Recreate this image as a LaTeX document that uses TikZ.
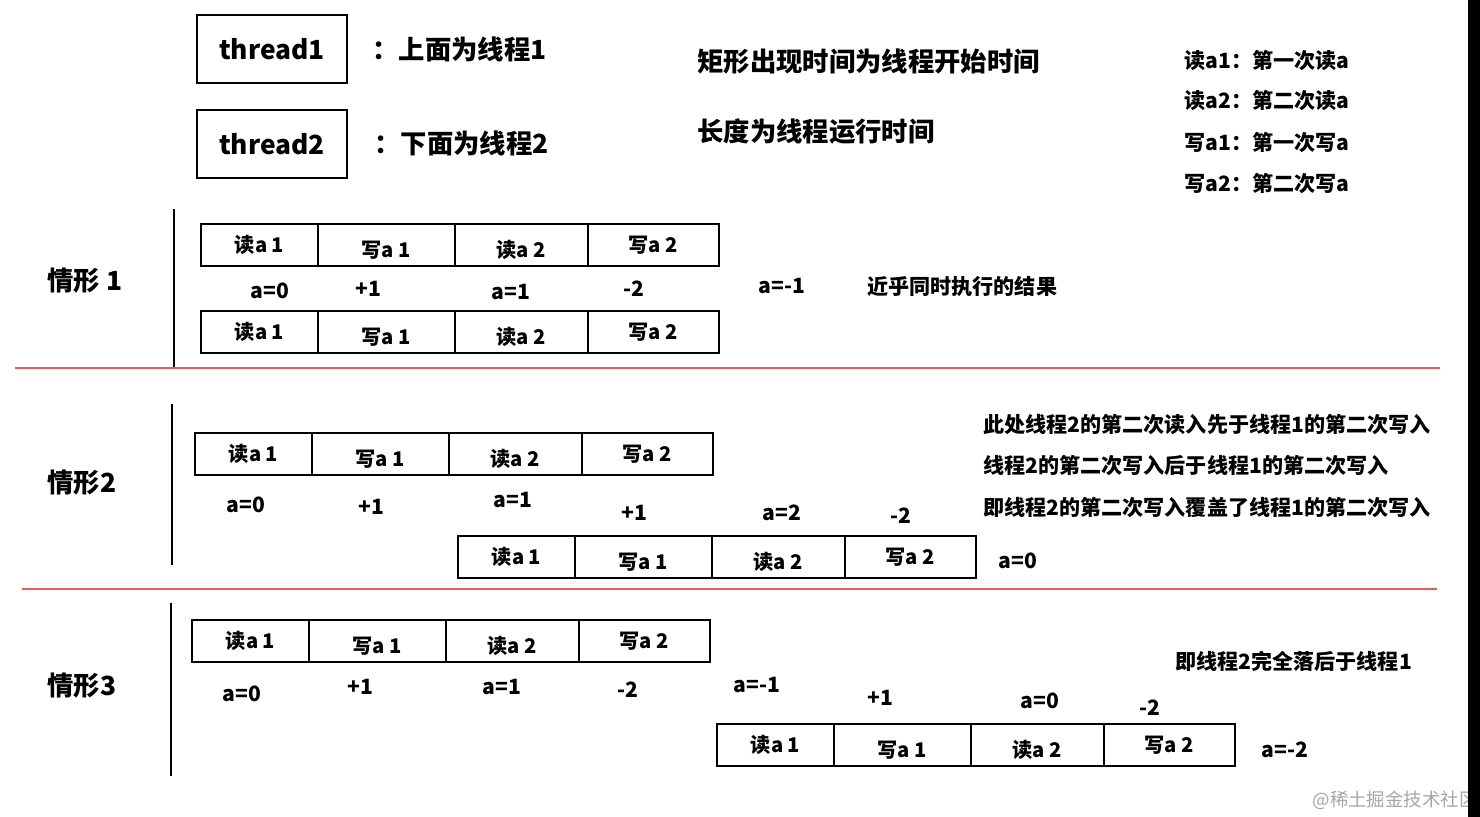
\documentclass[tikz,border=0pt]{standalone}
\usepackage{fontspec}
\setmainfont{Noto Sans CJK SC}
\usetikzlibrary{positioning}
\definecolor{sepred}{RGB}{232, 90, 90}

\begin{document}
\begin{tikzpicture}[x=0.02cm, y=-0.02cm, font=\bfseries,
    cell/.style={draw, line width=1pt, minimum height=0.84cm, inner sep=0pt, outer sep=0pt,
                 font=\fontsize{11.5}{13}\selectfont\bfseries},
    wa/.style={cell, minimum width=2.34cm},
    wb/.style={cell, minimum width=2.74cm},
    wc/.style={cell, minimum width=2.66cm},
    wd/.style={cell, minimum width=2.62cm},
    val/.style={font=\fontsize{12}{14}\selectfont\bfseries, inner sep=0pt},
    note/.style={font=\fontsize{12}{14}\selectfont\bfseries, anchor=west, inner sep=0pt},
    head/.style={font=\fontsize{15}{18}\selectfont\bfseries, anchor=west, inner sep=0pt},
    tbox/.style={draw, line width=1pt, minimum width=3cm, minimum height=1.36cm,
                 font=\fontsize{15}{18}\selectfont\bfseries}]
  \useasboundingbox (0,0) rectangle (1480,817);

  % legend
  \node[tbox] (th1) at (272,49)  {thread1};
  \node[tbox] (th2) at (272,144) {thread2};
  \node[head] (th1txt) at (372,49)  {：上面为线程1};
  \node[head] (th2txt) at (374,143) {：下面为线程2};
  \node[head] (start) at (697,62)  {矩形出现时间为线程开始时间};
  \node[head] (len)   at (697,132) {长度为线程运行时间};
  \node[note] (k1) at (1184,61)  {读a1：第一次读a};
  \node[note] (k2) at (1184,101) {读a2：第二次读a};
  \node[note] (k3) at (1184,143) {写a1：第一次写a};
  \node[note] (k4) at (1184,184) {写a2：第二次写a};

  % case 1
  \node[head] (case1) at (47,281) {情形 1};
  \draw[line width=1pt] (174,209) -- (174,367);
  \node[wa, anchor=north west] (t1r1) at (201,224) {读a 1};
  \node[wb, right=0pt of t1r1] (t1w1) {\raisebox{-3pt}[\height][\depth]{写a 1}};
  \node[wc, right=0pt of t1w1] (t1r2) {\raisebox{-3pt}[\height][\depth]{读a 2}};
  \node[wd, right=0pt of t1r2] (t1w2) {写a 2};
  \node[val] (v11) at (270,291) {a=0};
  \node[val] (v12) at (368,289) {+1};
  \node[val] (v13) at (511,292) {a=1};
  \node[val] (v14) at (634,289) {-2};
  \node[wa, anchor=north west] (b1r1) at (201,311) {读a 1};
  \node[wb, right=0pt of b1r1] (b1w1) {\raisebox{-3pt}[\height][\depth]{写a 1}};
  \node[wc, right=0pt of b1w1] (b1r2) {\raisebox{-3pt}[\height][\depth]{读a 2}};
  \node[wd, right=0pt of b1r2] (b1w2) {写a 2};
  \node[val] (v15) at (782,286) {a=-1};
  \node[note] (n1) at (867,287) {近乎同时执行的结果};
  \draw[sepred, line width=1.2pt] (15,368) -- (1440,368);

  % case 2
  \node[head] (case2) at (47,483) {情形2};
  \draw[line width=1pt] (172,404) -- (172,565);
  \node[wa, anchor=north west] (t2r1) at (195,433) {读a 1};
  \node[wb, right=0pt of t2r1] (t2w1) {\raisebox{-3pt}[\height][\depth]{写a 1}};
  \node[wc, right=0pt of t2w1] (t2r2) {\raisebox{-3pt}[\height][\depth]{读a 2}};
  \node[wd, right=0pt of t2r2] (t2w2) {写a 2};
  \node[val] (v21) at (246,505) {a=0};
  \node[val] (v22) at (371,507) {+1};
  \node[val] (v23) at (513,500) {a=1};
  \node[val] (v24) at (634,513) {+1};
  \node[val] (v25) at (782,513) {a=2};
  \node[val] (v26) at (901,516) {-2};
  \node[wa, anchor=north west] (b2r1) at (458,536) {读a 1};
  \node[wb, right=0pt of b2r1] (b2w1) {\raisebox{-3pt}[\height][\depth]{写a 1}};
  \node[wc, right=0pt of b2w1] (b2r2) {\raisebox{-3pt}[\height][\depth]{读a 2}};
  \node[wd, right=0pt of b2r2] (b2w2) {写a 2};
  \node[val] (v27) at (1018,561) {a=0};
  \node[note] (n21) at (983,424) {此处线程2的第二次读入先于线程1的第二次写入};
  \node[note] (n22) at (983,465) {线程2的第二次写入后于线程1的第二次写入};
  \node[note] (n23) at (983,507) {即线程2的第二次写入覆盖了线程1的第二次写入};
  \draw[sepred, line width=1.2pt] (22,589) -- (1437,589);

  % case 3
  \node[head] (case3) at (47,686) {情形3};
  \draw[line width=1pt] (171,603) -- (171,776);
  \node[wa, anchor=north west] (t3r1) at (192,620) {读a 1};
  \node[wb, right=0pt of t3r1] (t3w1) {\raisebox{-3pt}[\height][\depth]{写a 1}};
  \node[wc, right=0pt of t3w1] (t3r2) {\raisebox{-3pt}[\height][\depth]{读a 2}};
  \node[wd, right=0pt of t3r2] (t3w2) {写a 2};
  \node[val] (v31) at (242,694) {a=0};
  \node[val] (v32) at (360,687) {+1};
  \node[val] (v33) at (502,687) {a=1};
  \node[val] (v34) at (628,690) {-2};
  \node[val] (v35) at (757,685) {a=-1};
  \node[val] (v36) at (880,698) {+1};
  \node[val] (v37) at (1040,701) {a=0};
  \node[val] (v38) at (1150,708) {-2};
  \node[wa, anchor=north west] (b3r1) at (717,724) {读a 1};
  \node[wb, right=0pt of b3r1] (b3w1) {\raisebox{-3pt}[\height][\depth]{写a 1}};
  \node[wc, right=0pt of b3w1] (b3r2) {\raisebox{-3pt}[\height][\depth]{读a 2}};
  \node[wd, right=0pt of b3r2] (b3w2) {写a 2};
  \node[val] (v39) at (1285,750) {a=-2};
  \node[note] (n3) at (1175,661) {即线程2完全落后于线程1};

  % watermark and right band
  \node[anchor=east, inner sep=0pt, text=black!35, font=\fontsize{10.5}{12}\selectfont\mdseries] (mark) at (1478,800) {@稀土掘金技术社区};
  \fill (1468,0) rectangle (1480,817);
\end{tikzpicture}
\end{document}
